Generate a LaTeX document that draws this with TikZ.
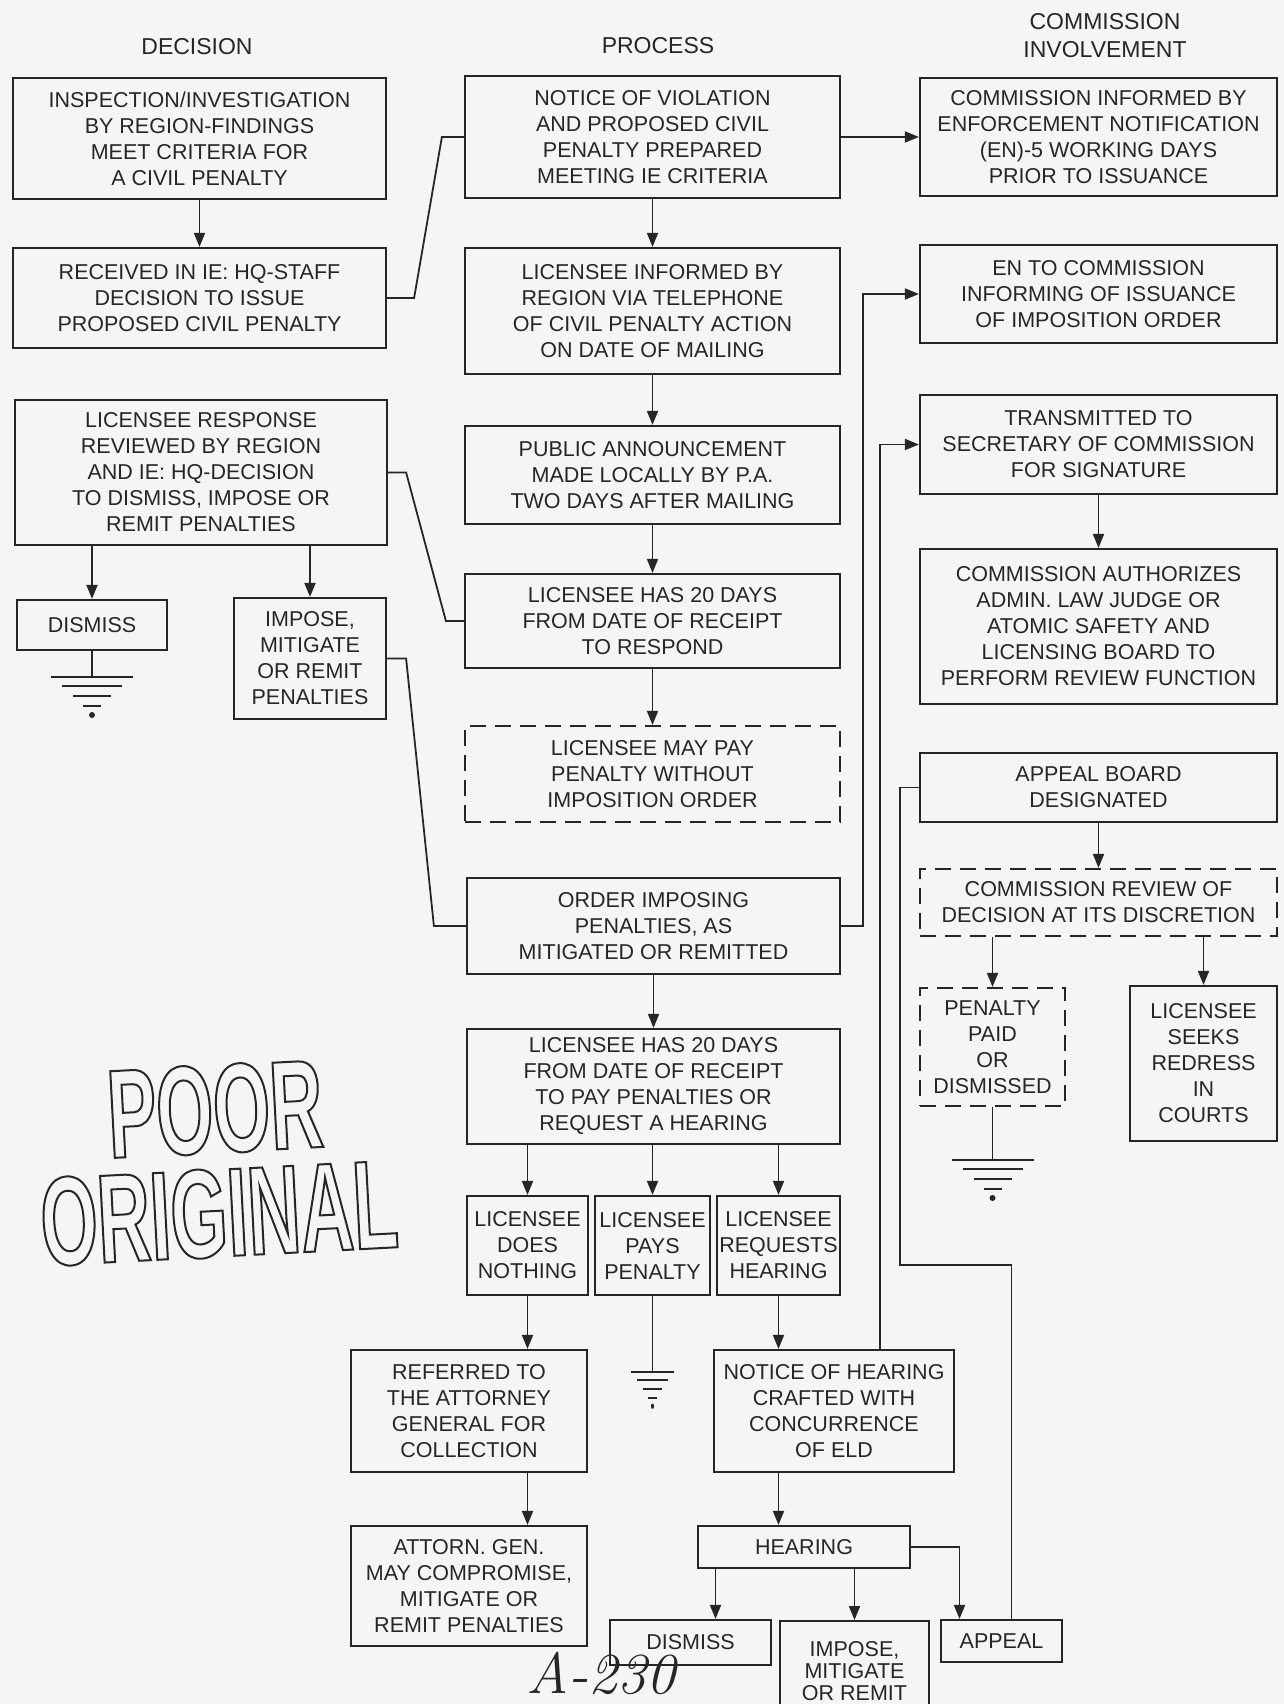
\documentclass[tikz,border=0pt]{standalone}
\usepackage{fontspec}
\newfontfamily\boxfont{Liberation Sans}
\newfontfamily\stampfont[FakeStretch=0.58]{Liberation Sans}
\usetikzlibrary{arrows.meta}
\tikzset{
  procbox/.style={draw=black!85,line width=2.2pt,align=center,inner sep=0pt,text=black!85,
    font=\boxfont\fontsize{21.5}{26}\selectfont},
  dashbox/.style={procbox,dash pattern=on 16pt off 9pt},
  headtext/.style={align=center,text=black!85,font=\boxfont\fontsize{23}{28}\selectfont},
  stamptext/.style={text=black!85,inner sep=0pt,text height=91pt,text depth=0pt,rotate=3,
    font=\stampfont\bfseries\fontsize{126}{126}\selectfont},
  arrline/.style={draw=black!85,line width=1.8pt,-{Triangle[length=14pt,width=11pt]}},
  plainline/.style={draw=black!85,line width=1.8pt},
  ground/.pic={
    \draw[black!85,line width=2.4pt] (-41,0) -- (41,0) (-30,9) -- (30,9) (-19,19) -- (19,19) (-9,29) -- (9,29);
    \fill[black!85] (0,38) circle[radius=3];
  }
}
\newcommand\outlined[1]{\special{pdf:literal 1 Tr 2 w}#1\special{pdf:literal 0 Tr}}
\begin{document}
\begin{tikzpicture}[x=1pt,y=-1pt]
\fill[black!4] (0,0) rectangle (1284,1704);
\useasboundingbox (0,0) rectangle (1284,1704);
% column heads
\node[headtext] (hdec) at (197,47) {DECISION};
\node[headtext] (hproc) at (658,46) {PROCESS};
\node[headtext] (hcom) at (1105,36) {COMMISSION\\INVOLVEMENT};
% decision column
\node[procbox,minimum width=373pt,minimum height=121pt] (insp) at (199.5,138.5) {INSPECTION/INVESTIGATION\\BY REGION-FINDINGS\\MEET CRITERIA FOR\\A CIVIL PENALTY};
\node[procbox,minimum width=373pt,minimum height=100pt] (recv) at (199.5,298) {RECEIVED IN IE: HQ-STAFF\\DECISION TO ISSUE\\PROPOSED CIVIL PENALTY};
\node[procbox,minimum width=372pt,minimum height=145pt] (resp) at (201,472.5) {LICENSEE RESPONSE\\REVIEWED BY REGION\\AND IE: HQ-DECISION\\TO DISMISS, IMPOSE OR\\REMIT PENALTIES};
\node[procbox,minimum width=150pt,minimum height=50pt] (dism1) at (92,625) {DISMISS};
\node[procbox,minimum width=152pt,minimum height=121pt] (imp1) at (310,658.5) {IMPOSE,\\MITIGATE\\OR REMIT\\PENALTIES};
% process column
\node[procbox,minimum width=375pt,minimum height=122pt] (nov) at (652.5,137) {NOTICE OF VIOLATION\\AND PROPOSED CIVIL\\PENALTY PREPARED\\MEETING IE CRITERIA};
\node[procbox,minimum width=375pt,minimum height=126pt] (tel) at (652.5,311) {LICENSEE INFORMED BY\\REGION VIA TELEPHONE\\OF CIVIL PENALTY ACTION\\ON DATE OF MAILING};
\node[procbox,minimum width=375pt,minimum height=98pt] (pub) at (652.5,475) {PUBLIC ANNOUNCEMENT\\MADE LOCALLY BY P.A.\\TWO DAYS AFTER MAILING};
\node[procbox,minimum width=375pt,minimum height=94pt] (resp20) at (652.5,621) {LICENSEE HAS 20 DAYS\\FROM DATE OF RECEIPT\\TO RESPOND};
\node[dashbox,minimum width=375pt,minimum height=96pt] (maypay) at (652.5,774) {LICENSEE MAY PAY\\PENALTY WITHOUT\\IMPOSITION ORDER};
\node[procbox,minimum width=373pt,minimum height=96pt] (order) at (653.5,926) {ORDER IMPOSING\\PENALTIES, AS\\MITIGATED OR REMITTED};
\node[procbox,minimum width=373pt,minimum height=115pt] (pay20) at (653.5,1086.5) {LICENSEE HAS 20 DAYS\\FROM DATE OF RECEIPT\\TO PAY PENALTIES OR\\REQUEST A HEARING};
\node[procbox,minimum width=121pt,minimum height=99pt] (none) at (527.5,1245.5) {LICENSEE\\DOES\\NOTHING};
\node[procbox,minimum width=115pt,minimum height=99pt] (pays) at (652.5,1245.5) {LICENSEE\\PAYS\\PENALTY};
\node[procbox,minimum width=123pt,minimum height=99pt] (req) at (778.5,1245.5) {LICENSEE\\REQUESTS\\HEARING};
\node[procbox,minimum width=236pt,minimum height=122pt] (ref) at (469,1411) {REFERRED TO\\THE ATTORNEY\\GENERAL FOR\\COLLECTION};
\node[procbox,minimum width=236pt,minimum height=120pt] (attn) at (469,1586) {ATTORN. GEN.\\MAY COMPROMISE,\\MITIGATE OR\\REMIT PENALTIES};
\node[procbox,minimum width=240pt,minimum height=122pt] (noh) at (834,1411) {NOTICE OF HEARING\\CRAFTED WITH\\CONCURRENCE\\OF ELD};
\node[procbox,minimum width=212pt,minimum height=42pt] (hear) at (804,1547) {HEARING};
\node[procbox,minimum width=161pt,minimum height=45pt] (dism2) at (690.5,1642.5) {DISMISS};
\node[procbox,minimum width=149pt,minimum height=100pt,anchor=north,
  font=\boxfont\fontsize{21.5}{22}\selectfont] (imp2) at (854.5,1620) {IMPOSE,\\MITIGATE\\OR REMIT};
\node[procbox,minimum width=121pt,minimum height=42pt] (appeal) at (1001.5,1641) {APPEAL};
% commission column
\node[procbox,minimum width=357pt,minimum height=118pt] (cinf) at (1098.5,137) {COMMISSION INFORMED BY\\ENFORCEMENT NOTIFICATION\\(EN)-5 WORKING DAYS\\PRIOR TO ISSUANCE};
\node[procbox,minimum width=357pt,minimum height=98pt] (en) at (1098.5,294) {EN TO COMMISSION\\INFORMING OF ISSUANCE\\OF IMPOSITION ORDER};
\node[procbox,minimum width=357pt,minimum height=99pt] (trans) at (1098.5,444.5) {TRANSMITTED TO\\SECRETARY OF COMMISSION\\FOR SIGNATURE};
\node[procbox,minimum width=357pt,minimum height=155pt] (auth) at (1098.5,626.5) {COMMISSION AUTHORIZES\\ADMIN. LAW JUDGE OR\\ATOMIC SAFETY AND\\LICENSING BOARD TO\\PERFORM REVIEW FUNCTION};
\node[procbox,minimum width=357pt,minimum height=69pt] (board) at (1098.5,787.5) {APPEAL BOARD\\DESIGNATED};
\node[dashbox,minimum width=357pt,minimum height=67pt] (review) at (1098.5,902.5) {COMMISSION REVIEW OF\\DECISION AT ITS DISCRETION};
\node[dashbox,minimum width=145pt,minimum height=118pt] (paid) at (992.5,1047) {PENALTY\\PAID\\OR\\DISMISSED};
\node[procbox,minimum width=147pt,minimum height=155pt] (seeks) at (1203.5,1063.5) {LICENSEE\\SEEKS\\REDRESS\\IN\\COURTS};
% stamp and page mark
\node[stamptext] (poor) at (215,1107) {\outlined{POOR}};
\node[stamptext] (orig) at (219,1211) {\outlined{ORIGINAL}};
\node[text=black!85,inner sep=0pt,font=\itshape\fontsize{58}{58}\selectfont] (pageno) at (601,1673) {A-230};
% grounds
\coordinate (gnd1) at (92,677);
\coordinate (gnd2) at (652.5,1372);
\coordinate (gnd3) at (992.5,1160);
\pic at (gnd1) {ground};
\pic[xscale=0.52,yscale=0.9] at (gnd2) {ground};
\pic at (gnd3) {ground};
% connectors
\draw[arrline] (insp) -- (recv);
\draw[plainline] (recv.east) -- ++(27,0) -- ([xshift=-22pt]nov.west) -- (nov.west);
\draw[arrline] (resp.south -| dism1.north) -- (dism1.north);
\draw[arrline] (resp.south -| imp1.north) -- (imp1.north);
\draw[plainline] (dism1.south) -- (gnd1);
\draw[plainline] (resp.east) -- ++(18,0) -- ([xshift=-18pt]resp20.west) -- (resp20.west);
\draw[plainline] (imp1.east) -- ++(19,0) -- ([xshift=-32pt]order.west) -- (order.west);
\draw[arrline] (nov) -- (cinf);
\draw[arrline] (nov) -- (tel);
\draw[arrline] (tel) -- (pub);
\draw[arrline] (pub) -- (resp20);
\draw[arrline] (resp20) -- (maypay);
\draw[arrline] (order.east) -- ++(22,0) |- (en.west);
\draw[arrline] (order) -- (pay20);
\draw[arrline] (pay20.south -| none.north) -- (none.north);
\draw[arrline] (pay20.south -| pays.north) -- (pays.north);
\draw[arrline] (pay20.south -| req.north) -- (req.north);
\draw[arrline] (none.south) -- (none.south |- ref.north);
\draw[arrline] (none.south |- ref.south) -- (none.south |- attn.north);
\draw[plainline] (pays.south) -- (gnd2);
\draw[arrline] (req.south) -- (req.south |- noh.north);
\draw[arrline] ([xshift=46pt]noh.north) |- (trans.west);
\draw[arrline] (req.south |- noh.south) -- (req.south |- hear.north);
\draw[arrline] ([xshift=25pt]dism2.north |- hear.south) -- ([xshift=25pt]dism2.north);
\draw[arrline] (imp2.north |- hear.south) -- (imp2.north);
\draw[arrline] (hear.east) -| ([xshift=-42pt]appeal.north);
\coordinate (apbend) at (900,1265);
\draw[plainline] ([xshift=10pt]appeal.north) |- (apbend) |- (board.west);
\draw[arrline] (trans) -- (auth);
\draw[arrline] (board) -- (review);
\draw[arrline] (review.south -| paid.north) -- (paid.north);
\draw[arrline] (review.south -| seeks.north) -- (seeks.north);
\draw[plainline] (paid.south) -- (gnd3);
\end{tikzpicture}
\end{document}
